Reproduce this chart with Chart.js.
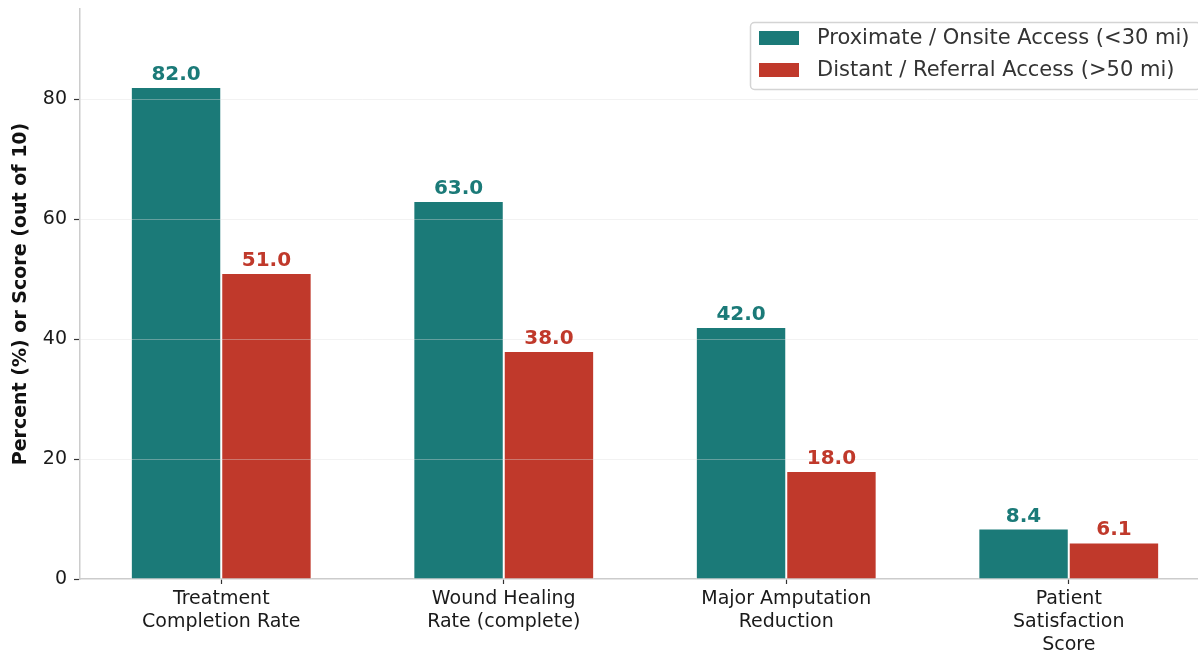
<!DOCTYPE html>
<html>
<head>
<meta charset="utf-8">
<script src="https://cdn.jsdelivr.net/npm/chart.js@4"></script>
<style>
html,body{margin:0;padding:0;background:#fff;overflow:hidden;width:1198px;height:656px;}
canvas{display:block;}
</style>
</head>
<body>
<canvas id="c" width="1220" height="656" style="width:1220px;height:656px"></canvas>
<script>
const categories = [["Treatment","Completion Rate"],["Wound Healing","Rate (complete)"],["Major Amputation","Reduction"],["Patient","Satisfaction","Score"]];
const proximateValues = [82.0, 63.0, 42.0, 8.4];
const distantValues = [51.0, 38.0, 18.0, 6.1];
const seriesNames = ["Proximate / Onsite Access (<30 mi)", "Distant / Referral Access (>50 mi)"];
const yTickValues = [0, 20, 40, 60, 80];
const yTitle = "Percent (%) or Score (out of 10)";

const TEAL = "#1b7a78";
const RED = "#c0392b";
const FONT = "'DejaVu Sans', sans-serif";

const overlayGrid = {
  id: 'overlayGrid',
  afterDatasetsDraw(chart) {
    const {ctx, chartArea, scales} = chart;
    ctx.save();
    ctx.strokeStyle = 'rgba(220,220,220,0.38)';
    ctx.lineWidth = 1;
    yTickValues.forEach(v => {
      if (v === 0) return;
      const y = Math.round(scales.y.getPixelForValue(v)) + 0.5;
      ctx.beginPath();
      ctx.moveTo(chartArea.left, y);
      ctx.lineTo(chartArea.right, y);
      ctx.stroke();
    });
    ctx.restore();
  }
};

const valueLabels = {
  id: 'valueLabels',
  afterDatasetsDraw(chart) {
    const {ctx} = chart;
    ctx.save();
    ctx.font = "bold 20px " + FONT;
    ctx.textAlign = 'center';
    ctx.textBaseline = 'alphabetic';
    chart.data.datasets.forEach((ds, di) => {
      const meta = chart.getDatasetMeta(di);
      meta.data.forEach((bar, i) => {
        ctx.fillStyle = ds.backgroundColor;
        ctx.fillText(ds.data[i].toFixed(1), bar.x, bar.y - 7);
      });
    });
    ctx.restore();
  }
};

const boxLegend = {
  id: 'boxLegend',
  afterDraw(chart) {
    const {ctx} = chart;
    const w = 450, h = 67;
    const x = 750, y = 22;
    ctx.save();
    ctx.fillStyle = 'rgba(255,255,255,0.85)';
    ctx.strokeStyle = '#d4d4d4';
    ctx.lineWidth = 1.5;
    ctx.beginPath();
    ctx.roundRect(x + 0.5, y + 0.5, w, h, 4);
    ctx.fill();
    ctx.stroke();
    ctx.font = "21px " + FONT;
    ctx.textBaseline = 'middle';
    ctx.textAlign = 'left';
    chart.data.datasets.forEach((ds, i) => {
      const cy = 38 + i * 32;
      ctx.fillStyle = ds.backgroundColor;
      ctx.fillRect(x + 9, cy - 7, 40, 14);
      ctx.fillStyle = '#333333';
      ctx.fillText(ds.label, x + 67, cy + 1);
    });
    ctx.restore();
  }
};

new Chart(document.getElementById('c'), {
  type: 'bar',
  data: {
    labels: categories,
    datasets: [
      {label: seriesNames[0], data: proximateValues, backgroundColor: TEAL, borderColor: '#ffffff', borderWidth: 1, categoryPercentage: 0.64, barPercentage: 1.0},
      {label: seriesNames[1], data: distantValues, backgroundColor: RED, borderColor: '#ffffff', borderWidth: 1, categoryPercentage: 0.64, barPercentage: 1.0}
    ]
  },
  options: {
    responsive: false,
    animation: false,
    layout: {padding: {left: 0, right: 10, top: 9, bottom: 0}},
    plugins: {legend: {display: false}, tooltip: {enabled: false}},
    scales: {
      x: {
        grid: {display: true, offset: false, drawOnChartArea: false, drawTicks: true, tickLength: 5, tickColor: '#333333', tickWidth: 1.2},
        border: {display: true, color: '#cccccc', width: 1.5},
        ticks: {color: '#1a1a1a', font: {family: FONT, size: 19, lineHeight: 1.2}, padding: 4, maxRotation: 0, autoSkip: false},
        afterFit(scale) { scale.height = 77; scale.paddingLeft = 0; scale.paddingRight = 0; }
      },
      y: {
        min: 0, max: 95,
        afterBuildTicks(scale) { scale.ticks = yTickValues.map(v => ({value: v})); },
        grid: {display: true, drawOnChartArea: false, drawTicks: true, tickLength: 6, tickColor: '#333333', tickWidth: 1.2},
        border: {display: true, color: '#cccccc', width: 1.5},
        ticks: {color: '#1a1a1a', font: {family: FONT, size: 19}, padding: 7},
        title: {display: true, text: yTitle, color: '#111111', font: {family: FONT, size: 19, weight: 'bold', lineHeight: 1.2}, padding: {top: 10, bottom: 0}},
        afterFit(scale) { scale.width = 80; scale.paddingTop = 0; scale.paddingBottom = 0; }
      }
    }
  },
  plugins: [overlayGrid, valueLabels, boxLegend]
});
</script>
</body>
</html>
